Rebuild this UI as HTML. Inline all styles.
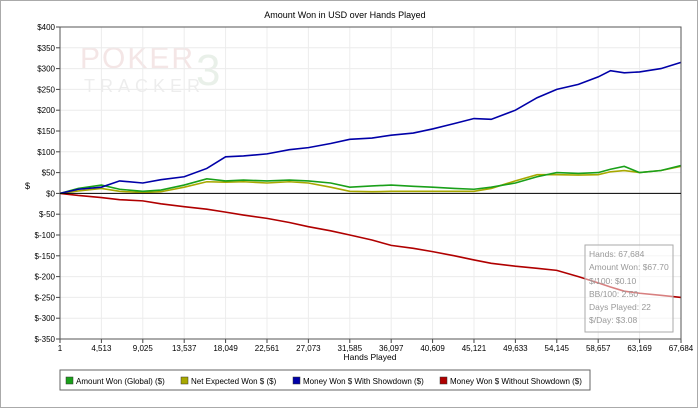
<!DOCTYPE html>
<html><head><meta charset="utf-8"><style>
body{margin:0;background:#fff;font-family:"Liberation Sans",sans-serif}
svg text{font-family:"Liberation Sans",sans-serif}
</style></head><body>
<svg id="c" width="700" height="410">
<rect x="0.5" y="0.5" width="697" height="407" fill="#fff" stroke="#aaa"/>
<text x="345" y="18" font-size="9" text-anchor="middle">Amount Won in USD over Hands Played</text>
<g opacity="0.45">
<text x="80" y="68" font-size="30" fill="#e8c8c8" font-family="Liberation Serif" letter-spacing="2">POKER</text>
<text x="84" y="92" font-size="18" fill="#d8d8d8" font-family="Liberation Serif" letter-spacing="5">TRACKER</text>
<text x="196" y="85" font-size="44" fill="#d0e0d0" font-family="Liberation Serif">3</text>
</g>
<g id="grid"></g>
<g id="series"></g>
<g id="axes"></g>
<text x="25" y="189" font-size="9">$</text>
<text x="370" y="360" font-size="8.5" text-anchor="middle">Hands Played</text>
<g>
<rect x="585" y="245" width="88" height="87" fill="rgba(255,255,255,0.5)" stroke="#aaa"/>
<g font-size="8.5" fill="#999">
<text x="589" y="257">Hands: 67,684</text>
<text x="589" y="270">Amount Won: $67.70</text>
<text x="589" y="284">$/100: $0.10</text>
<text x="589" y="297">BB/100: 2.50</text>
<text x="589" y="310">Days Played: 22</text>
<text x="589" y="323">$/Day: $3.08</text>
</g></g>
<g>
<rect x="60" y="370" width="530" height="20" fill="#fff" stroke="#666"/>
<g font-size="8">
<rect x="66" y="377" width="7" height="7" fill="#1aa01a" stroke="#333" stroke-width="0.5"/>
<text x="76" y="384">Amount Won (Global) ($)</text>
<rect x="181" y="377" width="7" height="7" fill="#a8a800" stroke="#333" stroke-width="0.5"/>
<text x="191" y="384">Net Expected Won $ ($)</text>
<rect x="293" y="377" width="7" height="7" fill="#0000a8" stroke="#333" stroke-width="0.5"/>
<text x="303" y="384">Money Won $ With Showdown ($)</text>
<rect x="440" y="377" width="7" height="7" fill="#b00000" stroke="#333" stroke-width="0.5"/>
<text x="450" y="384">Money Won $ Without Showdown ($)</text>
</g></g>
</svg>
<script>
const xTicks=[1,4513,9025,13537,18049,22561,27073,31585,36097,40609,45121,49633,54145,58657,63169,67684];
const yTicks=[400,350,300,250,200,150,100,50,0,-50,-100,-150,-200,-250,-300,-350];
const hands=[1,2000,4513,6500,9025,11000,13537,16000,18049,20000,22561,25000,27073,29500,31585,34000,36097,38500,40609,43000,45121,47000,49633,52000,54145,56500,58657,60000,61500,63169,65500,67684];
const blueVals=[0,10,15,30,25,33,40,60,88,90,95,105,110,120,130,133,140,145,155,168,180,178,200,230,250,262,280,295,290,292,300,315];
const greenVals=[0,12,20,10,5,8,20,35,30,32,30,32,30,25,15,18,20,17,15,12,10,15,25,40,50,48,50,58,65,50,55,67];
const oliveVals=[0,6,12,5,2,4,15,28,27,28,25,28,25,15,5,4,5,5,5,5,5,12,30,45,45,44,45,52,55,50,55,65];
const redVals=[0,-5,-10,-15,-18,-25,-32,-38,-45,-52,-60,-70,-80,-90,-100,-112,-125,-132,-140,-150,-160,-168,-175,-180,-185,-200,-215,-225,-235,-240,-245,-250];
const X0=60,X1=681,Y0=27,Y1=339;
const xs=v=>X0+(v-1)/(67684-1)*(X1-X0);
const ys=v=>Y0+(400-v)/750*(Y1-Y0);
const NS="http://www.w3.org/2000/svg";
const grid=document.getElementById('grid'),axes=document.getElementById('axes'),ser=document.getElementById('series');
function mk(tag,attrs,parent){const e=document.createElementNS(NS,tag);for(const k in attrs)e.setAttribute(k,attrs[k]);parent.appendChild(e);return e;}
xTicks.forEach(t=>{const x=xs(t);
const g=mk('line',{x1:x,x2:x,y1:Y0,y2:Y1,stroke:'#ececec'},grid);


mk('line',{x1:x,x2:x,y1:Y1,y2:Y1+4,stroke:'#444'},axes);
const l=mk('text',{x:x,y:Y1+12,'font-size':8,'text-anchor':'middle'},axes);l.textContent=t.toLocaleString('en-US');


});
yTicks.forEach(t=>{const y=ys(t);
const g=mk('line',{x1:X0,x2:X1,y1:y,y2:y,stroke:'#ececec'},grid);


mk('line',{x1:X0-4,x2:X0,y1:y,y2:y,stroke:'#444'},axes);
const l=mk('text',{x:X0-5,y:y+3,'font-size':8,'text-anchor':'end'},axes);l.textContent=t<0?'$-'+(-t):'$'+t;


});
mk('rect',{x:X0,y:Y0,width:X1-X0,height:Y1-Y0,fill:'none',stroke:'#555'},axes);
mk('line',{x1:X0,x2:X1,y1:ys(0),y2:ys(0),stroke:'#000'},axes);
[[redVals,'#b00000','line-without-showdown'],[oliveVals,'#a8a800','line-net-expected'],[greenVals,'#1aa01a','line-amount-won'],[blueVals,'#0000a8','line-with-showdown']].forEach(([vals,c,n])=>{
const p=mk('polyline',{points:vals.map((v,i)=>xs(hands[i])+','+ys(v)).join(' '),fill:'none',stroke:c,'stroke-width':1.6},ser);


});
</script>
</body></html>
